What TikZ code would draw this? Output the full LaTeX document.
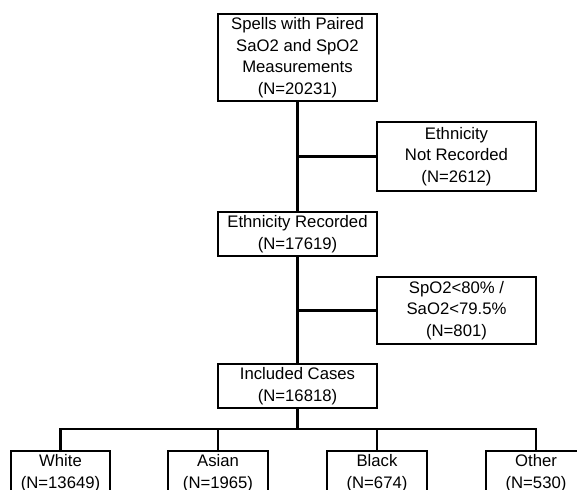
\documentclass[tikz,border=0pt]{standalone}
\usepackage{fontspec}
\setmainfont{Liberation Sans}
\usepackage{tikz}
\usetikzlibrary{positioning}
\tikzset{
  flowbox/.style={draw=black, line width=2.2pt, align=center, inner sep=0pt,
    minimum width=159pt, font=\fontsize{16.7}{21.5}\selectfont},
  groupbox/.style={flowbox, minimum width=100pt, minimum height=44pt},
  link/.style={black, line width=2.2pt}
}

\begin{document}
\begin{tikzpicture}[x=1pt, y=-1pt]
				    		\useasboundingbox (0,0) rectangle (577,489);
				    		\clip (0,0) rectangle (577,489);
				    		\node[flowbox, minimum height=87pt] (spells) at (297.5, 57.5) {Spells with Paired\\SaO2 and SpO2\\Measurements\\(N=20231)};
				    		\node[flowbox, minimum height=69pt] (notrec) at (456.5, 156.5) {Ethnicity\\Not Recorded\\(N=2612)};
				    		\node[flowbox, minimum height=44pt] (recorded) at (297.5, 234) {Ethnicity Recorded\\(N=17619)};
				    		\node[flowbox, minimum height=67pt] (lowsat) at (456.5, 310.5) {SpO2<80\% /\\SaO2<79.5\%\\(N=801)};
				    		\node[flowbox, minimum height=44pt] (included) at (297.5, 386) {Included Cases\\(N=16818)};
				    		\node[groupbox, minimum width=99pt] (white) at (60.5, 473) {White\\(N=13649)};
				    		\node[groupbox] (asian) at (218, 473) {Asian\\(N=1965)};
				    		\node[groupbox] (black) at (377, 473) {Black\\(N=674)};
				    		\node[groupbox] (other) at (536, 473) {Other\\(N=530)};
				    		\coordinate (split) at (297.5, 429);
				    		\draw[link] (spells.south) -- (recorded.north);
				    		\draw[link] (spells.south |- notrec.west) -- (notrec.west);
				    		\draw[link] (recorded.south) -- (included.north);
				    		\draw[link] (recorded.south |- lowsat.west) -- (lowsat.west);
				    		\draw[link] (included.south) -- (split);
				    		\foreach \grp in {white, asian, black, other}
				    			\draw[link] (split) -| (\grp.north);
				    	\end{tikzpicture}
\end{document}
